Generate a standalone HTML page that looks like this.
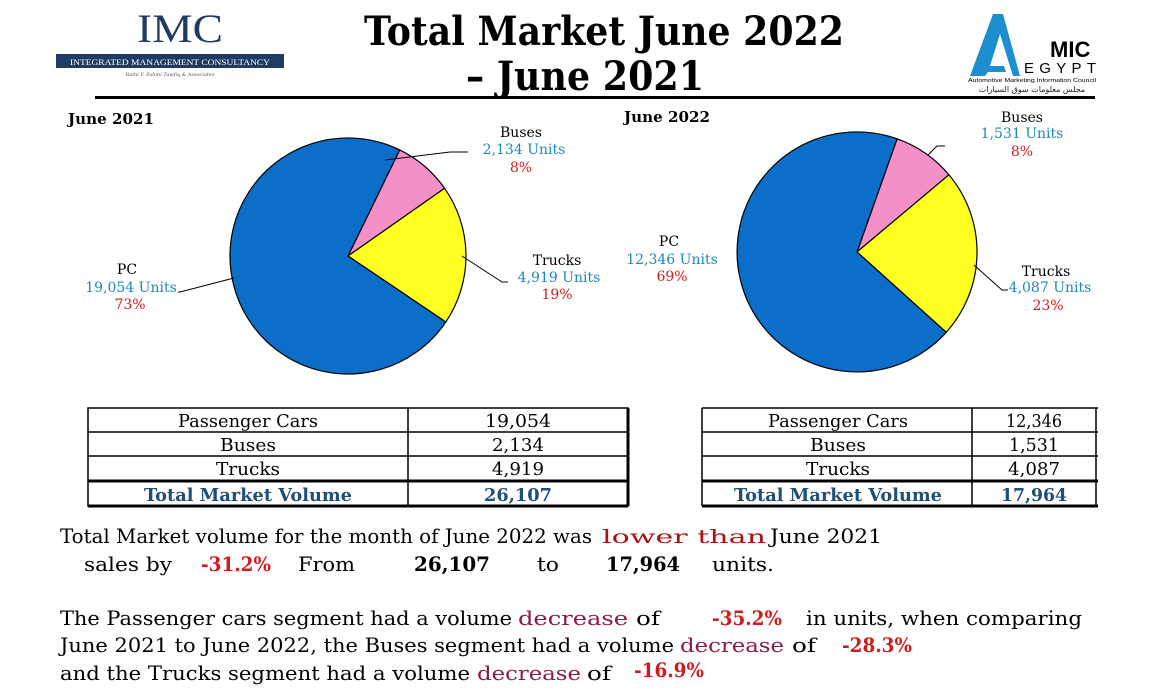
<!DOCTYPE html>
<html><head><meta charset="utf-8"><style>
body{margin:0;background:#fff}
svg{display:block}
text{font-family:"DejaVu Serif","Liberation Serif",serif}
</style></head><body>
<svg width="1176" height="695" viewBox="0 0 1176 695" xmlns="http://www.w3.org/2000/svg">
<text x="180" y="42" font-size="40" fill="#1f3a63" text-anchor="middle" style="font-family:'Liberation Serif',serif" textLength="86" lengthAdjust="spacingAndGlyphs">IMC</text>
<rect x="56" y="54" width="228" height="14" fill="#1f3a63"/>
<text x="170" y="65" font-size="8" fill="#fff" text-anchor="middle" style="font-family:'Liberation Serif',serif" textLength="200" lengthAdjust="spacingAndGlyphs">INTEGRATED MANAGEMENT CONSULTANCY</text>
<text x="170" y="76" font-size="5" fill="#555" text-anchor="middle" font-style="italic">Rami Y. Fahmi Tawfiq &amp; Associates</text>
<text x="604" y="45" font-size="40" font-weight="bold" text-anchor="middle" textLength="480" lengthAdjust="spacingAndGlyphs">Total Market June 2022</text>
<text x="585" y="90" font-size="40" font-weight="bold" text-anchor="middle" textLength="238" lengthAdjust="spacingAndGlyphs">– June 2021</text>
<rect x="95" y="96" width="1000" height="3" fill="#000"/>
<g>
<polygon points="993,14 1003,14 1020,76 1013,76 1000,34 990,66 1004,66 1006,72 988,72 985,76 970,76" fill="#1d8fd0"/>
<text x="1050" y="57" font-weight="bold" font-size="22" style="font-family:'Liberation Sans',sans-serif" fill="#000">MIC</text>
<text x="1024" y="73" font-size="15" style="font-family:'Liberation Sans',sans-serif" fill="#000" textLength="72" lengthAdjust="spacing">EGYPT</text>
<text x="968" y="82" font-size="5.5" style="font-family:'Liberation Sans',sans-serif" textLength="128" lengthAdjust="spacingAndGlyphs">Automotive Marketing Information Council</text>
<text x="1032" y="92" font-size="8" text-anchor="middle" fill="#222">مجلس معلومات سوق السيارات</text>
</g>
<text x="68" y="124" font-size="15" font-weight="bold" textLength="86" lengthAdjust="spacingAndGlyphs">June 2021</text>
<text x="624" y="122" font-size="15" font-weight="bold" textLength="86" lengthAdjust="spacingAndGlyphs">June 2022</text>
<g stroke="#000" stroke-width="1.2">
<path d="M348,256 L399.7,149.9 A118,118 0 0 1 444.6,188.3 Z" fill="#f48fc8"/>
<path d="M348,256 L444.6,188.3 A118,118 0 0 1 445.8,322.0 Z" fill="#ffff22"/>
<path d="M348,256 L445.8,322.0 A118,118 0 1 1 399.7,149.9 Z" fill="#0b6ec8"/>
</g>
<g fill="none" stroke="#000" stroke-width="1">
<polyline points="385,160 450,152 468,152"/>
<polyline points="462,256 502,282 508,282"/>
<polyline points="234,278 180,292 178,292"/>
</g>
<g font-size="14" text-anchor="middle">
<text x="521" y="137">Buses</text>
<text x="524" y="154" fill="#1e88b8">2,134  Units</text>
<text x="521" y="172" fill="#d01c1c">8%</text>
<text x="557" y="265">Trucks</text>
<text x="559" y="282" fill="#1e88b8">4,919 Units</text>
<text x="557" y="299" fill="#d01c1c">19%</text>
<text x="127" y="274">PC</text>
<text x="131" y="292" fill="#1e88b8">19,054 Units</text>
<text x="130" y="309" fill="#d01c1c">73%</text>
</g>
<g stroke="#000" stroke-width="1.2">
<path d="M857,252 L897.1,138.8 A120,120 0 0 1 948.9,174.8 Z" fill="#f48fc8"/>
<path d="M857,252 L948.9,174.8 A120,120 0 0 1 946.2,332.3 Z" fill="#ffff22"/>
<path d="M857,252 L946.2,332.3 A120,120 0 1 1 897.1,138.8 Z" fill="#0b6ec8"/>
</g>
<g fill="none" stroke="#000" stroke-width="1">
<polyline points="928,155 937,146 945,146"/>
<polyline points="974,265 1002,290 1008,290"/>
</g>
<g font-size="14" text-anchor="middle">
<text x="1022" y="122">Buses</text>
<text x="1022" y="138" fill="#1e88b8">1,531 Units</text>
<text x="1022" y="156" fill="#d01c1c">8%</text>
<text x="1046" y="276">Trucks</text>
<text x="1050" y="292" fill="#1e88b8">4,087 Units</text>
<text x="1048" y="310" fill="#d01c1c">23%</text>
<text x="669" y="246">PC</text>
<text x="672" y="264" fill="#1e88b8">12,346 Units</text>
<text x="672" y="281" fill="#d01c1c">69%</text>
</g>
<g stroke="#000" fill="none">
<rect x="88" y="408" width="540" height="98" stroke-width="1.5"/>
<line x1="408" y1="408" x2="408" y2="506" stroke-width="1.5"/>
<line x1="88" y1="432" x2="628" y2="432" stroke-width="1.5"/>
<line x1="88" y1="456" x2="628" y2="456" stroke-width="1.5"/>
<line x1="88" y1="481" x2="628" y2="481" stroke-width="3"/>
<line x1="88" y1="506" x2="628" y2="506" stroke-width="3"/>
<line x1="628" y1="408" x2="628" y2="506" stroke-width="3"/>
</g>
<g font-size="18" text-anchor="middle">
<text x="248" y="427" textLength="140" lengthAdjust="spacingAndGlyphs">Passenger Cars</text>
<text x="518" y="427" textLength="66" lengthAdjust="spacingAndGlyphs">19,054</text>
<text x="248" y="451" textLength="56" lengthAdjust="spacingAndGlyphs">Buses</text>
<text x="518" y="451" textLength="52" lengthAdjust="spacingAndGlyphs">2,134</text>
<text x="248" y="475" textLength="64" lengthAdjust="spacingAndGlyphs">Trucks</text>
<text x="518" y="475" textLength="52" lengthAdjust="spacingAndGlyphs">4,919</text>
<text x="248" y="501" font-weight="bold" fill="#1f4e79" textLength="208" lengthAdjust="spacingAndGlyphs">Total Market Volume</text>
<text x="518" y="501" font-weight="bold" fill="#1f4e79" textLength="68" lengthAdjust="spacingAndGlyphs">26,107</text>
</g>
<g stroke="#000" fill="none">
<line x1="702" y1="408" x2="1098" y2="408" stroke-width="1.5"/>
<line x1="702" y1="408" x2="702" y2="506" stroke-width="1.5"/>
<line x1="972" y1="408" x2="972" y2="506" stroke-width="1.5"/>
<line x1="702" y1="432" x2="1098" y2="432" stroke-width="1.5"/>
<line x1="702" y1="456" x2="1098" y2="456" stroke-width="1.5"/>
<line x1="702" y1="481" x2="1098" y2="481" stroke-width="3"/>
<line x1="702" y1="506" x2="1098" y2="506" stroke-width="3"/>
<line x1="1096" y1="408" x2="1096" y2="506" stroke-width="1.5"/>
</g>
<g font-size="18" text-anchor="middle">
<text x="838" y="427" textLength="140" lengthAdjust="spacingAndGlyphs">Passenger Cars</text>
<text x="1034" y="427" textLength="56" lengthAdjust="spacingAndGlyphs">12,346</text>
<text x="838" y="451" textLength="56" lengthAdjust="spacingAndGlyphs">Buses</text>
<text x="1034" y="451" textLength="50" lengthAdjust="spacingAndGlyphs">1,531</text>
<text x="838" y="475" textLength="64" lengthAdjust="spacingAndGlyphs">Trucks</text>
<text x="1034" y="475" textLength="52" lengthAdjust="spacingAndGlyphs">4,087</text>
<text x="838" y="501" font-weight="bold" fill="#1f4e79" textLength="208" lengthAdjust="spacingAndGlyphs">Total Market Volume</text>
<text x="1034" y="501" font-weight="bold" fill="#1f4e79" textLength="66" lengthAdjust="spacingAndGlyphs">17,964</text>
</g>
<g font-size="20">
<text x="60" y="543" textLength="532" lengthAdjust="spacingAndGlyphs">Total Market volume for the month of June 2022 was</text>
<text x="602" y="543" fill="#a11" textLength="164" lengthAdjust="spacingAndGlyphs" font-size="19">lower than</text>
<text x="770" y="543" textLength="112" lengthAdjust="spacingAndGlyphs">June 2021</text>
<text x="84" y="571" textLength="88" lengthAdjust="spacingAndGlyphs">sales by</text>
<text x="201" y="571" fill="#d01c1c" font-weight="bold" textLength="70" lengthAdjust="spacingAndGlyphs">-31.2%</text>
<text x="298" y="571" textLength="57" lengthAdjust="spacingAndGlyphs">From</text>
<text x="414" y="571" font-weight="bold" textLength="76" lengthAdjust="spacingAndGlyphs">26,107</text>
<text x="537" y="571" textLength="22" lengthAdjust="spacingAndGlyphs">to</text>
<text x="606" y="571" font-weight="bold" textLength="74" lengthAdjust="spacingAndGlyphs">17,964</text>
<text x="712" y="571" textLength="62" lengthAdjust="spacingAndGlyphs">units.</text>
<text x="60" y="625" textLength="452" lengthAdjust="spacingAndGlyphs">The Passenger cars segment had a volume</text>
<text x="518" y="625" fill="#8b1a4a" textLength="110" lengthAdjust="spacingAndGlyphs">decrease</text>
<text x="636" y="625" textLength="24" lengthAdjust="spacingAndGlyphs">of</text>
<text x="712" y="625" fill="#d01c1c" font-weight="bold" textLength="70" lengthAdjust="spacingAndGlyphs">-35.2%</text>
<text x="806" y="625" textLength="276" lengthAdjust="spacingAndGlyphs">in units, when comparing</text>
<text x="60" y="652" textLength="614" lengthAdjust="spacingAndGlyphs">June 2021 to June 2022, the Buses segment had a volume</text>
<text x="680" y="652" fill="#8b1a4a" textLength="104" lengthAdjust="spacingAndGlyphs">decrease</text>
<text x="792" y="652" textLength="24" lengthAdjust="spacingAndGlyphs">of</text>
<text x="842" y="652" fill="#d01c1c" font-weight="bold" textLength="70" lengthAdjust="spacingAndGlyphs">-28.3%</text>
<text x="60" y="680" textLength="410" lengthAdjust="spacingAndGlyphs">and the Trucks segment had a volume</text>
<text x="477" y="680" fill="#8b1a4a" textLength="104" lengthAdjust="spacingAndGlyphs">decrease</text>
<text x="587" y="680" textLength="24" lengthAdjust="spacingAndGlyphs">of</text>
<text x="634" y="677" fill="#d01c1c" font-weight="bold" textLength="70" lengthAdjust="spacingAndGlyphs">-16.9%</text>
</g>
</svg>
</body></html>
